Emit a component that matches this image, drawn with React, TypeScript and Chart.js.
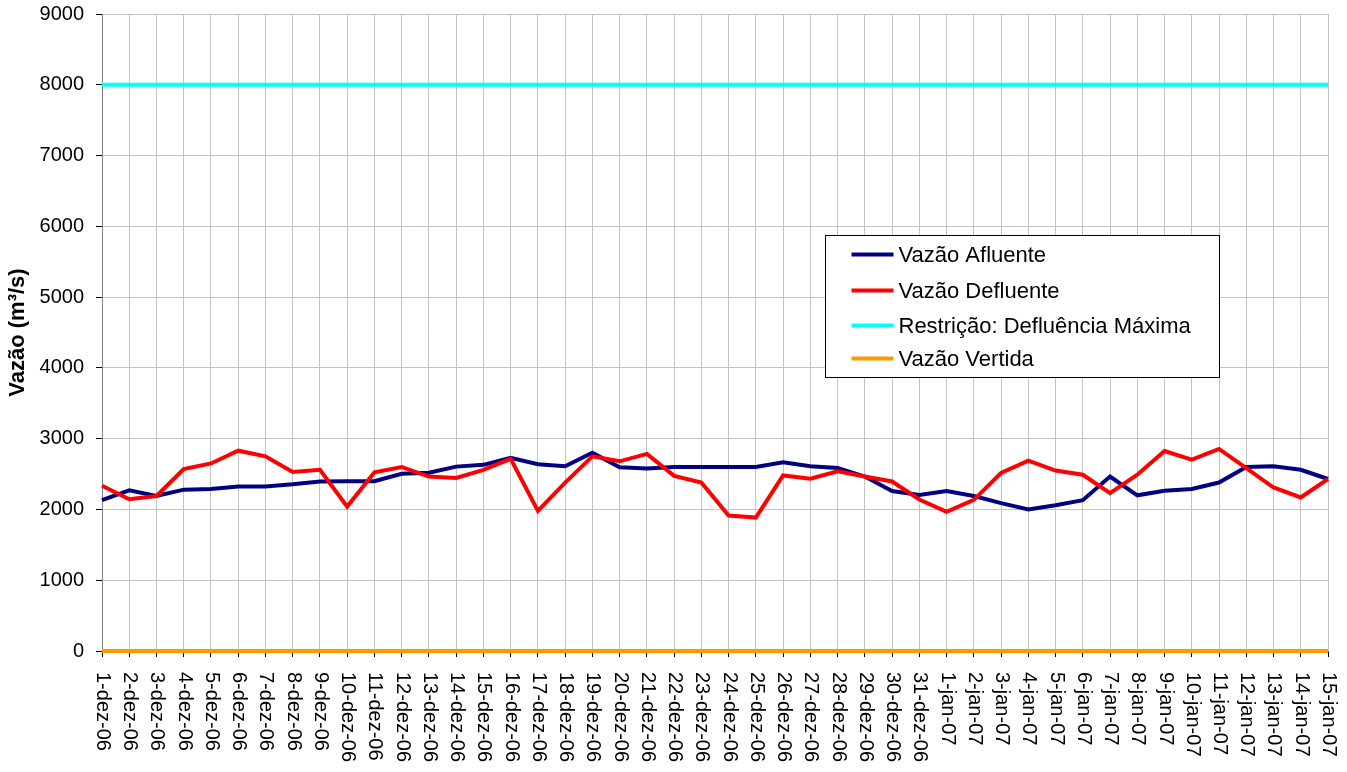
import React, { useEffect, useRef } from "react";
import { Chart, registerables } from "chart.js";

Chart.register(...registerables);

const categories = [
  "1-dez-06", "2-dez-06", "3-dez-06", "4-dez-06", "5-dez-06", "6-dez-06", "7-dez-06", "8-dez-06",
  "9-dez-06", "10-dez-06", "11-dez-06", "12-dez-06", "13-dez-06", "14-dez-06", "15-dez-06", "16-dez-06",
  "17-dez-06", "18-dez-06", "19-dez-06", "20-dez-06", "21-dez-06", "22-dez-06", "23-dez-06", "24-dez-06",
  "25-dez-06", "26-dez-06", "27-dez-06", "28-dez-06", "29-dez-06", "30-dez-06", "31-dez-06",
  "1-jan-07", "2-jan-07", "3-jan-07", "4-jan-07", "5-jan-07", "6-jan-07", "7-jan-07", "8-jan-07",
  "9-jan-07", "10-jan-07", "11-jan-07", "12-jan-07", "13-jan-07", "14-jan-07", "15-jan-07",
];

const vazaoAfluente = [
  2130, 2270, 2190, 2280, 2290, 2325, 2325, 2355, 2395, 2400, 2400, 2505, 2520, 2605, 2630, 2730,
  2640, 2610, 2800, 2595, 2580, 2600, 2600, 2600, 2600, 2665, 2610, 2585, 2465, 2260, 2205,
  2260, 2190, 2090, 2000, 2060, 2130, 2465, 2200, 2265, 2290, 2380, 2600, 2610, 2560, 2430,
];

const vazaoDefluente = [
  2335, 2145, 2190, 2570, 2650, 2830, 2750, 2530, 2560, 2040, 2525, 2600, 2465, 2445, 2560, 2715,
  1980, 2380, 2750, 2680, 2785, 2475, 2380, 1915, 1885, 2480, 2435, 2540, 2465, 2395, 2140,
  1965, 2135, 2515, 2690, 2550, 2490, 2230, 2490, 2825, 2705, 2855, 2585, 2310, 2170, 2430,
];

const restricaoDefluenciaMaxima = [
  8000, 8000, 8000, 8000, 8000, 8000, 8000, 8000, 8000, 8000, 8000, 8000, 8000, 8000, 8000, 8000,
  8000, 8000, 8000, 8000, 8000, 8000, 8000, 8000, 8000, 8000, 8000, 8000, 8000, 8000, 8000,
  8000, 8000, 8000, 8000, 8000, 8000, 8000, 8000, 8000, 8000, 8000, 8000, 8000, 8000, 8000,
];

const vazaoVertida = [
  0, 0, 0, 0, 0, 0, 0, 0, 0, 0, 0, 0, 0, 0, 0, 0,
  0, 0, 0, 0, 0, 0, 0, 0, 0, 0, 0, 0, 0, 0, 0,
  0, 0, 0, 0, 0, 0, 0, 0, 0, 0, 0, 0, 0, 0, 0,
];

const seriesNames = ["Vazão Afluente", "Vazão Defluente", "Restrição: Defluência Máxima", "Vazão Vertida"];
const seriesColors = ["#000080", "#FF0000", "#00FFFF", "#FF9900"];
const yAxisTitle = "Vazão (m³/s)";
const yMin = 0;
const yMax = 9000;
const yStep = 1000;

const FONT = '"Liberation Sans", Arial, Helvetica, sans-serif';

const rotatedXLabels = {
  id: "rotatedXLabels",
  afterDraw(chart: any) {
    const scale = chart.scales.x;
    const ctx = chart.ctx;
    ctx.save();
    ctx.fillStyle = "#000";
    ctx.font = `20px ${FONT}`;
    ctx.textAlign = "left";
    ctx.textBaseline = "middle";
    categories.forEach((lab, i) => {
      const x = scale.getPixelForValue(i);
      ctx.save();
      ctx.translate(x + 0.5, scale.top + 21);
      ctx.rotate(Math.PI / 2);
      ctx.fillText(lab, 0, 0);
      ctx.restore();
    });
    ctx.restore();
  },
};

const boxLegend = {
  id: "boxLegend",
  afterDraw(chart: any) {
    const ctx = chart.ctx;
    const area = chart.chartArea;
    const w = area.right - area.left;
    const h = area.bottom - area.top;
    const bx = Math.round(area.left + w * 0.5896) + 0.5;
    const by = Math.round(area.top + h * 0.347) + 0.5;
    const bw = 394;
    const bh = 142;
    ctx.save();
    ctx.fillStyle = "#fff";
    ctx.fillRect(bx, by, bw, bh);
    ctx.strokeStyle = "#000";
    ctx.lineWidth = 1;
    ctx.strokeRect(bx, by, bw, bh);
    ctx.font = `22px ${FONT}`;
    ctx.textAlign = "left";
    ctx.textBaseline = "middle";
    const rows = [19, 55, 90, 123];
    seriesNames.forEach((name, i) => {
      const cy = by + rows[i];
      ctx.strokeStyle = seriesColors[i];
      ctx.lineWidth = 4;
      ctx.beginPath();
      ctx.moveTo(bx + 26, cy);
      ctx.lineTo(bx + 68, cy);
      ctx.stroke();
      ctx.fillStyle = "#000";
      ctx.fillText(name, bx + 73, cy + 1);
    });
    ctx.restore();
  },
};

export default function App() {
  const canvasRef = useRef<HTMLCanvasElement | null>(null);

  useEffect(() => {
    const canvas = canvasRef.current;
    if (!canvas) return;
    const mk = (i: number, data: number[], order: number) => ({
      label: seriesNames[i],
      data,
      borderColor: seriesColors[i],
      backgroundColor: seriesColors[i],
      borderWidth: 4,
      pointRadius: 0,
      pointHoverRadius: 0,
      tension: 0,
      fill: false,
      clip: false as const,
      order,
    });
    const chart = new Chart(canvas, {
      type: "line",
      data: {
        labels: categories,
        datasets: [
          mk(0, vazaoAfluente, 2),
          mk(1, vazaoDefluente, 1),
          mk(2, restricaoDefluenciaMaxima, 0),
          mk(3, vazaoVertida, 0),
        ],
      },
      options: {
        responsive: false,
        animation: false,
        devicePixelRatio: 1,
        layout: { padding: { top: 14, right: 19, left: 0, bottom: 0 } },
        plugins: {
          legend: { display: false },
          tooltip: { enabled: false },
        },
        scales: {
          x: {
            type: "category",
            offset: false,
            grid: {
              display: true,
              color: "#c4c4c4",
              lineWidth: 1,
              drawTicks: true,
              tickLength: 6,
              tickColor: "#000",
            },
            border: { display: true, color: "#808080" },
            ticks: { display: false, autoSkip: false },
            afterFit: (scale: any) => {
              scale.height = 121;
              scale.paddingLeft = 0;
              scale.paddingRight = 0;
            },
          },
          y: {
            min: yMin,
            max: yMax,
            grid: {
              color: "#c4c4c4",
              lineWidth: 1,
              drawTicks: true,
              tickLength: 6,
              tickColor: "#000",
            },
            border: { display: true, color: "#808080" },
            ticks: {
              stepSize: yStep,
              padding: 12,
              color: "#000",
              font: { family: FONT, size: 20 },
              callback: (v: any) => String(v),
            },
            title: {
              display: true,
              text: yAxisTitle,
              color: "#000",
              font: { family: FONT, size: 22, weight: "bold" },
              padding: { top: 5, bottom: 0 },
            },
            afterFit: (scale: any) => {
              scale.width = 102;
              scale.paddingTop = 0;
              scale.paddingBottom = 0;
            },
          },
        },
      },
      plugins: [rotatedXLabels, boxLegend],
    });
    return () => chart.destroy();
  }, []);

  return (
    <div style={{ position: "absolute", left: 0, top: 0, width: 1347, height: 772, background: "#fff" }}>
      <canvas ref={canvasRef} width={1347} height={772} style={{ display: "block" }} />
    </div>
  );
}
